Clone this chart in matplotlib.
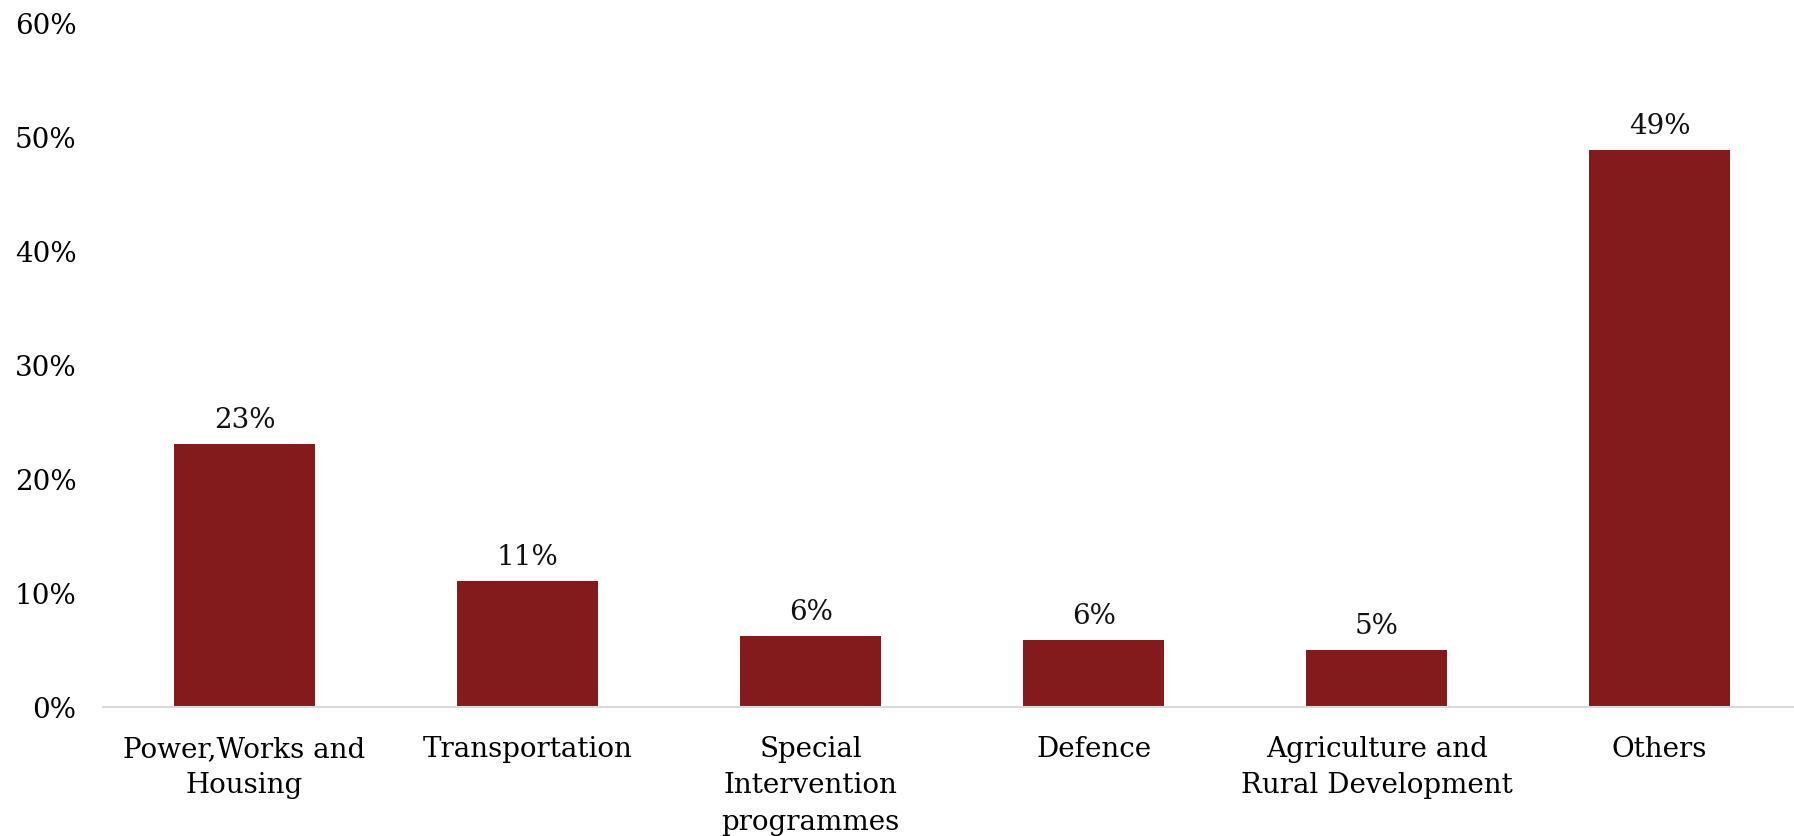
import matplotlib
matplotlib.use("Agg")
import matplotlib.pyplot as plt
from matplotlib.ticker import FuncFormatter

# data
categories = ["Power,Works and\nHousing", "Transportation", "Special\nIntervention\nprogrammes",
              "Defence", "Agriculture and\nRural Development", "Others"]
shares = [23.0, 11.0, 6.2, 5.9, 5.0, 48.8]
share_labels = ["23%", "11%", "6%", "6%", "5%", "49%"]
y_ticks = [0, 10, 20, 30, 40, 50, 60]

plt.rcParams["font.family"] = ["DejaVu Serif"]

fig = plt.figure(figsize=(17.94, 8.37), dpi=100)
ax = fig.add_axes([103 / 1794, 1 - 708 / 837, 1 - 103 / 1794 + 0.004, (708 - 23) / 837])

x = list(range(len(categories)))
bars = ax.bar(x, shares, width=0.5, color="#831a1c")

for b, lab in zip(bars, share_labels):
    ax.annotate(lab, (b.get_x() + b.get_width() / 2, b.get_height()),
                xytext=(0, 8), textcoords="offset points",
                ha="center", va="bottom", fontsize=20, color="#111111")

ax.set_xlim(-0.5, len(categories) - 0.5)
ax.set_ylim(0, 60)
ax.set_yticks(y_ticks)
ax.yaxis.set_major_formatter(FuncFormatter(lambda v, p: f"{v:.0f}%"))
ax.set_xticks(x)
ax.set_xticklabels(categories, fontsize=20, linespacing=1.46)
ax.tick_params(axis="y", length=0, pad=19, labelsize=20)
ax.tick_params(axis="x", length=0, pad=20)

for s in ["top", "right", "left"]:
    ax.spines[s].set_visible(False)
ax.spines["bottom"].set_color("#d9d9d9")
ax.spines["bottom"].set_linewidth(1.5)

fig.savefig("out.png", dpi=100)
